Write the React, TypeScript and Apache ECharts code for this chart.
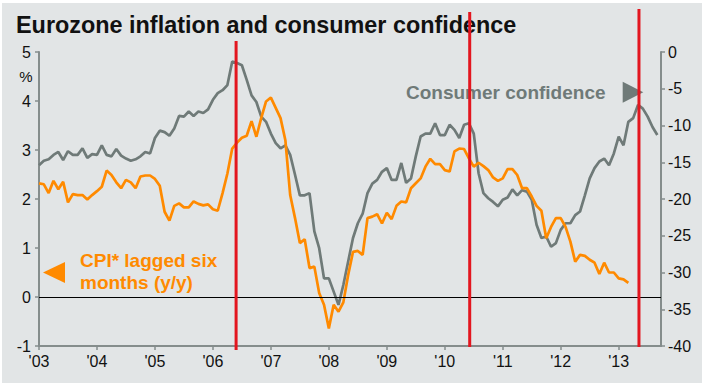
import React, { useEffect, useRef } from 'react';
import * as echarts from 'echarts';

const START_YEAR = 2003;
const X_MAX = 2013.73;

// Consumer confidence (right axis), monthly from Jan 2003
const CONFIDENCE = [
  -15.4, -14.8, -14.6, -14.0, -13.6, -14.7, -13.5, -14.0, -14.0, -13.1, -14.4, -13.9,
  -14.0, -12.7, -14.0, -14.2, -13.2, -14.1, -14.5, -14.8, -14.6, -14.2, -13.6, -13.8,
  -11.7, -10.7, -10.9, -11.4, -10.4, -8.7, -8.8, -8.1, -8.7, -8.1, -8.3, -7.8,
  -6.5, -5.6, -5.2, -4.5, -1.3, -1.5, -1.8, -3.8, -5.9, -6.8, -8.8, -9.5,
  -11.1, -12.4, -13.1, -12.7, -14.0, -16.7, -19.5, -19.5, -19.2, -24.4, -26.7, -30.8,
  -30.8, -32.6, -34.4, -31.7, -28.5, -25.3, -23.3, -22.0, -19.2, -17.9, -17.4, -16.3,
  -15.8, -17.4, -17.4, -15.1, -17.8, -17.2, -14.2, -11.5, -11.1, -11.1, -9.7, -11.3,
  -11.3, -9.9, -10.6, -11.7, -9.9, -9.7, -11.1, -16.5, -19.2, -19.9, -20.4, -21.0,
  -20.1, -19.8, -18.7, -19.5, -18.8, -19.0, -20.1, -23.5, -25.3, -25.1, -26.5, -26.0,
  -24.2, -23.3, -23.3, -22.2, -21.7, -19.5, -17.2, -15.8, -14.9, -14.5, -15.4, -13.8,
  -11.5, -12.7, -9.5, -9.0, -7.2, -7.7, -8.8, -10.2, -11.3,
];

// CPI lagged six months (y/y, %), left axis, monthly from Jan 2003
const CPI_LAGGED = [
  2.32, 2.30, 2.12, 2.37, 2.20, 2.35, 1.93, 2.10, 2.08, 2.08, 1.99, 2.08,
  2.16, 2.25, 2.58, 2.49, 2.34, 2.22, 2.39, 2.34, 2.22, 2.46, 2.48, 2.48,
  2.41, 2.27, 1.74, 1.56, 1.86, 1.91, 1.83, 1.83, 1.95, 1.90, 1.87, 1.89,
  1.79, 1.76, 2.12, 2.52, 3.03, 3.15, 3.25, 3.29, 3.59, 3.27, 3.65, 3.99,
  4.07, 3.86, 3.65, 3.20, 2.08, 1.61, 1.10, 1.18, 0.59, 0.62, 0.08, -0.16,
  -0.64, -0.16, -0.30, -0.11, 0.45, 0.92, 0.94, 0.86, 1.61, 1.64, 1.69, 1.50,
  1.72, 1.59, 1.86, 1.95, 1.93, 2.22, 2.32, 2.42, 2.66, 2.82, 2.71, 2.71,
  2.59, 2.56, 2.97, 3.03, 3.02, 2.83, 2.66, 2.74, 2.67, 2.59, 2.44, 2.37,
  2.42, 2.61, 2.61, 2.49, 2.22, 2.22, 2.05, 1.86, 1.76, 1.20, 1.43, 1.61,
  1.61, 1.43, 1.13, 0.72, 0.86, 0.84, 0.76, 0.70, 0.47, 0.70, 0.50, 0.50,
  0.38, 0.36, 0.29,
];

// Dates of the red vertical markers (decimal years)
const EVENT_DATES = [2006.4, 2010.43, 2013.35];

const TITLE = 'Eurozone inflation and consumer confidence';
const CONF_LABEL = 'Consumer confidence';
const CPI_LABEL_1 = 'CPI* lagged six';
const CPI_LABEL_2 = 'months (y/y)';

export default function App() {
  const ref = useRef<HTMLDivElement>(null);

  useEffect(() => {
    const chart = echarts.init(ref.current!, null, { renderer: 'svg' });
    const font = "'Liberation Sans', Arial, sans-serif";
    const axisGray = '#858d8c';
    const lineGray = '#6f7a78';
    const orange = '#ff8a00';
    const red = '#e3161f';

    const staticGraphics: any[] = [
      {
        id: 'title', type: 'text', x: 14, y: 22, z: 50,
        style: { text: TITLE, font: `bold 23.4px ${font}`, fill: '#111', verticalAlign: 'middle' },
      },
      {
        id: 'pct', type: 'text', x: 24, y: 73, z: 50,
        style: { text: '%', font: `15px ${font}`, fill: '#111', align: 'center', verticalAlign: 'middle' },
      },
      {
        id: 'confText', type: 'text', x: 404, y: 89, z: 50,
        style: { text: CONF_LABEL, font: `bold 19px ${font}`, fill: lineGray, verticalAlign: 'middle' },
      },
      {
        id: 'confTri', type: 'polygon', z: 50,
        shape: { points: [[620.7, 78.7], [641.3, 89.2], [620.7, 99.7]] },
        style: { fill: lineGray },
      },
      {
        id: 'cpiText1', type: 'text', x: 78, y: 257, z: 50,
        style: { text: CPI_LABEL_1, font: `bold 19px ${font}`, fill: orange, verticalAlign: 'middle' },
      },
      {
        id: 'cpiText2', type: 'text', x: 78, y: 279, z: 50,
        style: { text: CPI_LABEL_2, font: `bold 19px ${font}`, fill: orange, verticalAlign: 'middle' },
      },
      {
        id: 'cpiTri', type: 'polygon', z: 50,
        shape: { points: [[41, 269.5], [63, 259], [63, 280]] },
        style: { fill: orange },
      },
    ];

    chart.setOption({
      animation: false,
      backgroundColor: '#e2e5e6',
      textStyle: { fontFamily: font },
      grid: { left: 37, right: 41, top: 49, bottom: 37 },
      xAxis: {
        type: 'value',
        min: START_YEAR,
        max: X_MAX,
        interval: 1,
        splitLine: { show: false },
        axisLine: { onZero: false, lineStyle: { color: axisGray, width: 2 } },
        axisTick: { length: 4, lineStyle: { color: axisGray, width: 1.5 } },
        axisLabel: {
          color: '#111',
          fontSize: 16,
          fontFamily: font,
          margin: 7,
          showMaxLabel: false,
          formatter: (v: number) => (Number.isInteger(v) ? "'" + String(v).slice(2) : ''),
        },
      },
      yAxis: [
        {
          type: 'value',
          position: 'left',
          min: -1,
          max: 5,
          interval: 1,
          splitLine: { show: false },
          axisLine: { show: true, onZero: false, lineStyle: { color: axisGray, width: 2 } },
          axisTick: { show: true, length: 4, lineStyle: { color: axisGray, width: 1.5 } },
          axisLabel: { color: '#111', fontSize: 16, fontFamily: font, margin: 8 },
        },
        {
          type: 'value',
          position: 'right',
          min: -40,
          max: 0,
          interval: 5,
          splitLine: { show: false },
          axisLine: { show: true, onZero: false, lineStyle: { color: axisGray, width: 2 } },
          axisTick: { show: true, length: 4, lineStyle: { color: axisGray, width: 1.5 } },
          axisLabel: { color: '#111', fontSize: 16, fontFamily: font, margin: 7 },
        },
      ],
      series: [
        {
          type: 'line',
          name: CONF_LABEL,
          yAxisIndex: 1,
          data: CONFIDENCE.map((v, i) => [START_YEAR + i / 12, v]),
          showSymbol: false,
          lineStyle: { color: lineGray, width: 2.7 },
          z: 3,
        },
        {
          type: 'line',
          name: CPI_LABEL_1,
          yAxisIndex: 0,
          data: CPI_LAGGED.map((v, i) => [START_YEAR + i / 12, v]),
          showSymbol: false,
          lineStyle: { color: orange, width: 2.7 },
          z: 4,
          markLine: {
            silent: true,
            symbol: 'none',
            label: { show: false },
            lineStyle: { color: '#000', width: 1, type: 'solid' },
            data: [{ yAxis: 0 }],
          },
        },
      ],
      graphic: staticGraphics,
    });

    const tops = [38, 9, 6];
    const bottoms = [347, 344, 344];
    const lines = EVENT_DATES.map((d, i) => {
      const x = chart.convertToPixel({ xAxisIndex: 0 }, d) as number;
      return {
        id: 'event' + i,
        type: 'line',
        z: 60,
        shape: { x1: x, y1: tops[i], x2: x, y2: bottoms[i] },
        style: { stroke: red, lineWidth: 3 },
      };
    });
    chart.setOption({ graphic: [...staticGraphics, ...lines] });

    return () => chart.dispose();
  }, []);

  return (
    <div style={{ position: 'absolute', left: 0, top: 0, width: 702, height: 383, background: '#ffffff' }}>
      <div ref={ref} style={{ position: 'absolute', left: 2, top: 3, width: 700, height: 380 }} />
    </div>
  );
}
